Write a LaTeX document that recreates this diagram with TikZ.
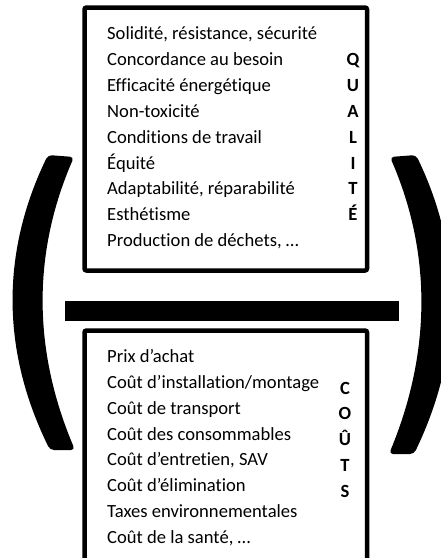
\documentclass[tikz,border=0pt]{standalone}
\usepackage{fontspec}
\setmainfont{Carlito}[Ligatures=NoCommon]
\begin{document}
\begin{tikzpicture}[x=1pt, y=-1pt,
    box/.style={rounded corners=2pt, line width=4.5pt},
    item/.style={anchor=base west, inner sep=0pt, font=\fontsize{18.6}{22}\selectfont},
    letter/.style={anchor=base, inner sep=0pt, font=\fontsize{18.6}{22}\selectfont\bfseries},
    paren/.style={fill=black, rounded corners=4pt}]
    \useasboundingbox (0, 0) rectangle (441, 558);

    % qualite
    \draw[box] (84.5, 7.5) rectangle (367, 270.5);
    \foreach \t [count=\i] in {{Solidité, résistance, sécurité}, {Concordance au besoin},
        {Efficacité énergétique}, {Non-toxicité}, {Conditions de travail}, {Équité},
        {Adaptabilité, réparabilité}, {Esthétisme}, {Production de déchets, …}}
        \node[item] (q-\i) at (107, {39.5 + 25.9*(\i-1)}) {\t};
    \foreach \l [count=\i] in {Q, U, A, L, I, T, É}
        \node[letter] (ql-\i) at (353, {39.5 + 25.9*\i}) {\l};

    % balance bar
    \fill (65, 301) rectangle (399, 321);

    % couts
    \draw[box] (84.5, 330.5) rectangle (367, 561);
    \foreach \t [count=\i] in {{Prix d’achat}, {Coût d’installation/montage},
        {Coût de transport}, {Coût des consommables}, {Coût d’entretien, SAV},
        {Coût d’élimination}, {Taxes environnementales}, {Coût de la santé, …}}
        \node[item] (c-\i) at (107, {362.5 + 25.85*(\i-1)}) {\t};
    \foreach \l [count=\i] in {C, O, Û, T, S}
        \node[letter] (cl-\i) at (345, {394 + 25.85*(\i-1)}) {\l};

    % parentheses
    \fill[paren] (48, 155) .. controls (0.7, 252.7) and (1.3, 351) .. (50, 450)
        -- (75, 450) .. controls (32.7, 350.3) and (32.3, 252.7) .. (74, 157) -- cycle;
    \fill[paren] (416, 155) .. controls (463.3, 252.7) and (462.7, 353) .. (414, 454)
        -- (389, 454) .. controls (431.3, 352.3) and (431.7, 252.7) .. (390, 157) -- cycle;
\end{tikzpicture}
\end{document}
